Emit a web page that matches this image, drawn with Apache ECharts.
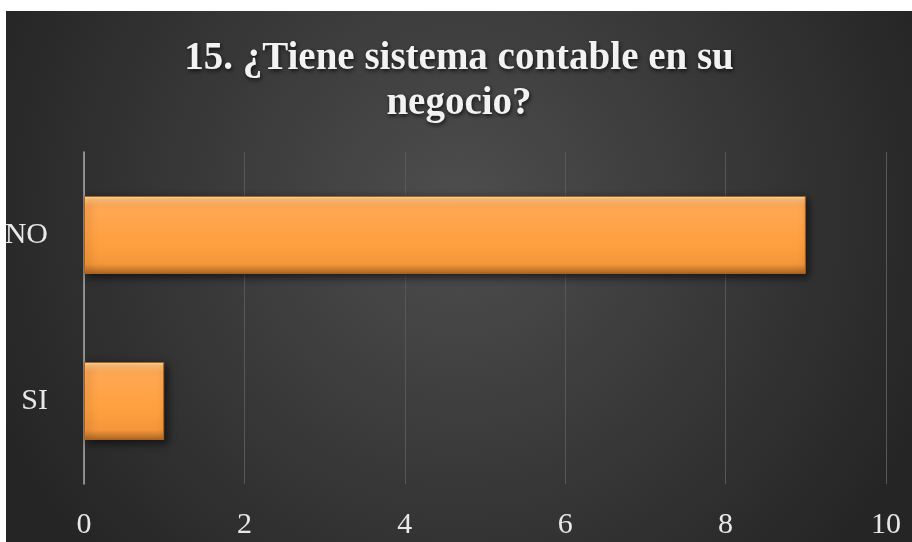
<!DOCTYPE html>
<html>
<head>
<meta charset="utf-8">
<script src="https://cdn.jsdelivr.net/npm/echarts@6/dist/echarts.min.js"></script>
<style>
html,body{margin:0;padding:0;background:#fff;width:912px;height:542px;overflow:hidden;}
#c{position:absolute;left:6px;top:11px;width:906px;height:531px;}
</style>
</head>
<body>
<div id="c"></div>
<script>
const titleText = '15. ¿Tiene sistema contable en su\nnegocio?';
const categories = ['SI', 'NO'];
const values = [1, 9];
const xTicks = { min: 0, max: 10, interval: 2 };

const chart = echarts.init(document.getElementById('c'));
const serif = '"Liberation Serif", "Times New Roman", serif';
chart.setOption({
  animation: false,
  backgroundColor: {
    type: 'radial', x: 0.5, y: 0.38, r: 0.95,
    colorStops: [
      { offset: 0, color: '#4e4e4e' },
      { offset: 1, color: '#252525' }
    ]
  },
  title: {
    text: titleText,
    left: 'center',
    top: 20,
    textStyle: {
      fontFamily: serif,
      fontWeight: 'bold',
      fontSize: 39,
      lineHeight: 45,
      color: '#f2f2f2',
      textShadowColor: 'rgba(0,0,0,0.75)',
      textShadowBlur: 4,
      textShadowOffsetX: 1,
      textShadowOffsetY: 2
    }
  },
  grid: { left: 78, right: 26, top: 141, bottom: 58, containLabel: false, outerBoundsMode: 'none' },
  xAxis: {
    type: 'value',
    min: xTicks.min, max: xTicks.max, interval: xTicks.interval,
    axisLine: { show: false },
    axisTick: { show: false },
    axisLabel: { color: '#e8e8e8', fontFamily: serif, fontSize: 30, margin: 26 },
    splitLine: { lineStyle: { color: '#585858', width: 1 } }
  },
  yAxis: {
    type: 'category',
    data: categories,
    axisLine: { show: true, lineStyle: { color: '#a8a8a8', width: 1.5 } },
    axisTick: { show: false },
    axisLabel: { color: '#e8e8e8', fontFamily: serif, fontSize: 30, margin: 36 }
  },
  series: [{
    type: 'bar',
    data: values,
    barWidth: '47%',
    itemStyle: {
      color: {
        type: 'linear', x: 0, y: 0, x2: 0, y2: 1,
        colorStops: [
          { offset: 0, color: '#ffe6b0' },
          { offset: 0.04, color: '#ffc27c' },
          { offset: 0.13, color: '#ffa853' },
          { offset: 0.6, color: '#ffa040' },
          { offset: 0.87, color: '#f5963a' },
          { offset: 0.93, color: '#d58230' },
          { offset: 1, color: '#b06626' }
        ]
      },
      borderColor: '#a86224',
      borderWidth: 1,
      shadowColor: 'rgba(0,0,0,0.6)',
      shadowBlur: 8,
      shadowOffsetX: 3,
      shadowOffsetY: 3
    }
  }]
});
</script>
</body>
</html>
